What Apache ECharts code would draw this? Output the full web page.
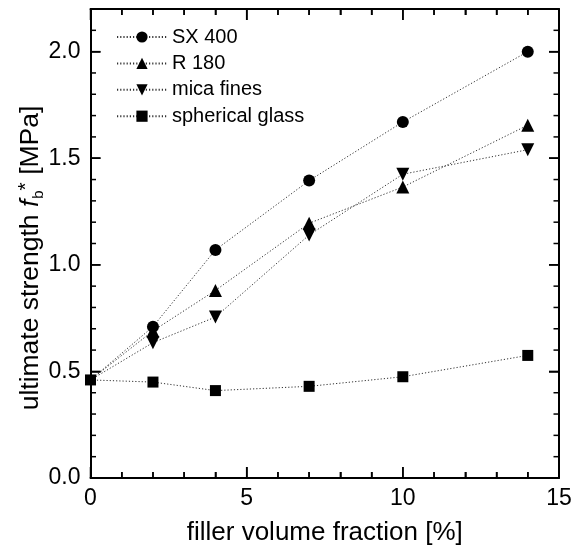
<!DOCTYPE html>
<html><head><meta charset="utf-8">
<script src="https://cdn.jsdelivr.net/npm/echarts@6/dist/echarts.min.js"></script>
<style>html,body{margin:0;padding:0;background:#fff}#c{width:580px;height:553px}</style>
</head><body><div id="c"></div>
<script>
var fraction = [0, 2, 4, 7, 10, 14];
var sx400 = [0.46, 0.71, 1.07, 1.395, 1.67, 2.0];
var r180 = [0.46, 0.69, 0.88, 1.195, 1.365, 1.655];
var mica = [0.46, 0.635, 0.755, 1.14, 1.425, 1.54];
var glass = [0.46, 0.45, 0.41, 0.43, 0.475, 0.575];
var seriesNames = ['SX 400', 'R 180', 'mica fines', 'spherical glass'];
var yMajorTicks = [0, 0.5, 1.0, 1.5, 2.0];
var yMinorTicks = [0.1, 0.2, 0.3, 0.4, 0.6, 0.7, 0.8, 0.9, 1.1, 1.2, 1.3, 1.4, 1.6, 1.7, 1.8, 1.9, 2.1];
var xMajorTicks = [0, 5, 10, 15];
var xMinorTicks = [1, 2, 3, 4, 6, 7, 8, 9, 11, 12, 13, 14];
var X_MIN = 0, X_MAX = 15, Y_MIN = 0, Y_MAX = 2.2;

var FONT = 'Liberation Sans, Arial, Helvetica, sans-serif';
var chart = echarts.init(document.getElementById('c'), null, {renderer: 'canvas'});

function pairs(vals, hideFirst) {
  return fraction.map(function (x, i) {
    var d = {value: [x, vals[i]]};
    if (hideFirst && i === 0) d.symbol = 'none';
    return d;
  });
}
function mkSeries(name, vals, symbol, size, rotate, hideFirst) {
  return {
    type: 'line', name: name, data: pairs(vals, hideFirst),
    symbol: symbol, symbolSize: size, symbolRotate: rotate || 0,
    showAllSymbol: true, clip: false, z: 3,
    itemStyle: {color: '#000', borderWidth: 0},
    lineStyle: {type: [1.2, 2], width: 1, color: '#333'},
    emphasis: {disabled: true}, animation: false
  };
}

function mainY(pos, labels) {
  return {
    type: 'value', min: Y_MIN, max: Y_MAX, interval: 0.5, position: pos, offset: 0,
    axisLine: {show: true, onZero: false, lineStyle: {color: '#000', width: 2}},
    axisTick: {show: true, inside: true, length: 10, lineStyle: {color: '#000', width: 1.5}},
    splitArea: {show: false},
    axisLabel: labels ? {
      show: true, margin: 10, color: '#000', fontSize: 23, fontFamily: FONT,
      formatter: function (v) {
        for (var k = 0; k < yMajorTicks.length; k++) {
          if (Math.abs(v - yMajorTicks[k]) < 1e-6) return yMajorTicks[k].toFixed(1);
        }
        return '';
      }
    } : {show: false},
    splitLine: {show: false}
  };
}
function mainX(pos, labels) {
  var a = {
    type: 'value', min: X_MIN, max: X_MAX, interval: 5, position: pos, offset: 0,
    axisLine: {show: true, onZero: false, lineStyle: {color: '#000', width: 2}},
    axisTick: {show: true, inside: true, length: 11, lineStyle: {color: '#000', width: 1.5}},
    minorTick: {show: true, splitNumber: 5, length: 6, lineStyle: {color: '#000', width: 1.5}},
    splitArea: {show: false},
    axisLabel: labels ? {show: true, margin: 9, color: '#000', fontSize: 23, fontFamily: FONT} : {show: false},
    splitLine: {show: false}
  };
  if (labels) {
    a.name = 'filler volume fraction [%]';
    a.nameLocation = 'middle';
    a.nameGap = 42;
    a.nameTextStyle = {color: '#000', fontSize: 26, fontFamily: FONT};
  }
  return a;
}

// tick data: [x, y, length]
var xTickData = xMajorTicks.map(function (v) { return [v, Y_MIN, 11]; })
  .concat(xMinorTicks.map(function (v) { return [v, Y_MIN, 6]; }));
var yTickData = yMajorTicks.map(function (v) { return [X_MIN, v, 10]; })
  .concat(yMinorTicks.map(function (v) { return [X_MIN, v, 5.5]; }));

function tickLine(x1, y1, x2, y2) {
  return {type: 'line', shape: {x1: x1, y1: y1, x2: x2, y2: y2},
    style: {stroke: '#000', lineWidth: 1.5}};
}
function tickSeries(data, isX) {
  return {
    type: 'custom', coordinateSystem: 'cartesian2d', xAxisIndex: 0, yAxisIndex: 0,
    data: data, silent: true, clip: false, z: 6, animation: false,
    encode: {x: 0, y: 1},
    renderItem: function (params, api) {
      var len = api.value(2), a, b;
      if (isX) {
        var v = api.value(0);
        a = api.coord([v, Y_MIN]); b = api.coord([v, Y_MAX]);
        return {type: 'group', children: [
          tickLine(a[0], a[1], a[0], a[1] - len),
          tickLine(b[0], b[1], b[0], b[1] + len)
        ]};
      }
      var w = api.value(1);
      a = api.coord([X_MIN, w]); b = api.coord([X_MAX, w]);
      return {type: 'group', children: [
        tickLine(a[0], a[1], a[0] + len, a[1]),
        tickLine(b[0], b[1], b[0] - len, b[1])
      ]};
    }
  };
}

var option = {
  backgroundColor: '#fff',
  animation: false,
  grid: {show: false, left: 90.5, right: 21, top: 9, bottom: 75, containLabel: false},
  xAxis: [mainX('bottom', true), mainX('top', false)],
  yAxis: [mainY('left', true), mainY('right', false)],
  legend: {
    show: true, orient: 'vertical', left: 116, top: 27, padding: 0, itemWidth: 50, itemHeight: 14, itemGap: 6.4,
    data: seriesNames,
    textStyle: {color: '#000', fontSize: 20, lineHeight: 20, fontFamily: FONT},
    selectedMode: false
  },
  graphic: [{
    type: 'text', x: 31, y: 258, rotation: Math.PI / 2, z: 10,
    style: {
      text: '{a|ultimate strength }{i|f}{s|b}{p|*}{a| [MPa]}',
      align: 'center', verticalAlign: 'middle', fill: '#000',
      rich: {
        a: {fontSize: 26.5, fontFamily: FONT, fill: '#000', lineHeight: 30},
        i: {fontSize: 26.5, fontFamily: FONT, fontStyle: 'italic', fill: '#000', lineHeight: 30},
        s: {fontSize: 15, fontFamily: FONT, fill: '#000', verticalAlign: 'bottom', lineHeight: 30, padding: [0, 0, 0, 1]},
        p: {fontSize: 21, fontFamily: FONT, fill: '#000', verticalAlign: 'top', lineHeight: 30}
      }
    }
  }],
  series: [
    mkSeries('SX 400', sx400, 'circle', 12, 0, true),
    mkSeries('R 180', r180, 'triangle', 13, 0, true),
    mkSeries('mica fines', mica, 'triangle', 13, 180, true),
    mkSeries('spherical glass', glass, 'rect', 11, 0, false),
    tickSeries(xTickData, true),
    tickSeries(yTickData, false)
  ]
};
chart.setOption(option);
</script>
</body></html>
